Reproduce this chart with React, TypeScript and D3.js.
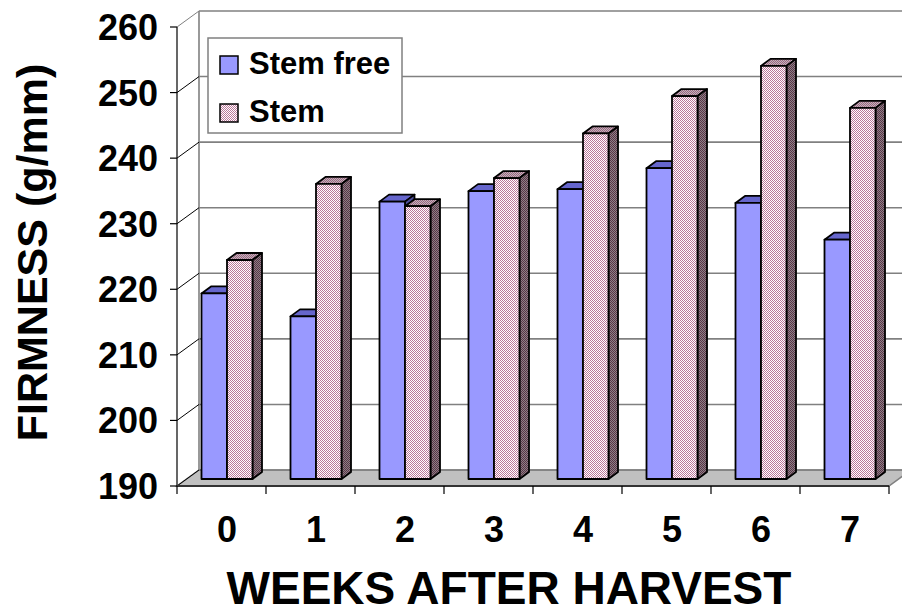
import React from "react";
import * as d3 from "d3";

const categories = ["0", "1", "2", "3", "4", "5", "6", "7"];
const stemFree = [218.3, 214.8, 232.3, 233.9, 234.2, 237.4, 232.1, 226.5];
const stem = [223.4, 235.0, 231.6, 235.9, 242.7, 248.4, 253.0, 246.6];
const yTicks = [190, 200, 210, 220, 230, 240, 250, 260];
const seriesNames = ["Stem free", "Stem"];

const W = 902;
const H = 613;
const FONT = "'Liberation Sans', Arial, sans-serif";

export default function App() {
  const frontLeft = 177;
  const frontRight = 889;
  const frontBase = 486;
  const frontTop = 27;
  const depthX = 22;
  const depthY = 16;
  const barOffX = 5.5;
  const barOffY = 7;
  const barDepthX = 9.5;
  const barDepthY = 7;
  const barW = 25.5;

  const x = d3.scaleBand<string>().domain(categories).range([frontLeft, frontRight]);
  const yFront = d3.scaleLinear().domain([190, 260]).range([frontBase, frontTop]);
  const yBack = d3.scaleLinear().domain([190, 260]).range([frontBase - depthY, frontTop - depthY]);
  const yBar = d3.scaleLinear().domain([190, 260]).range([frontBase - barOffY, frontTop - barOffY]);

  const pts = (p: [number, number][]) => p.map((q) => q.join(",")).join(" ");

  const bar = (x0: number, v: number, front: string, top: string, side: string, key: string) => {
    const x1 = x0 + barW;
    const yt = yBar(v);
    const yb = yBar(190);
    return (
      <g key={key} stroke="#000" strokeWidth={1.8} strokeLinejoin="round">
        <polygon points={pts([[x0, yt], [x1, yt], [x1 + barDepthX, yt - barDepthY], [x0 + barDepthX, yt - barDepthY]])} fill={top} />
        <polygon points={pts([[x1, yt], [x1 + barDepthX, yt - barDepthY], [x1 + barDepthX, yb - barDepthY], [x1, yb]])} fill={side} />
        <rect x={x0} y={yt} width={barW} height={yb - yt} fill={front} />
      </g>
    );
  };

  const bw = x.bandwidth();

  return (
    <svg width={W} height={H} style={{ position: "absolute", left: 0, top: 0, background: "#fff" }} xmlns="http://www.w3.org/2000/svg">
      <defs>
        <pattern id="pFront" width={2} height={2} patternUnits="userSpaceOnUse">
          <rect width={2} height={2} fill="#ffffff" />
          <rect x={0} y={0} width={1} height={1} fill="#bb7799" />
          <rect x={1} y={1} width={1} height={1} fill="#bb7799" />
        </pattern>
        <pattern id="pSide" width={2} height={2} patternUnits="userSpaceOnUse">
          <rect width={2} height={2} fill="#8c8286" />
          <rect x={0} y={0} width={1} height={1} fill="#5a3347" />
          <rect x={1} y={1} width={1} height={1} fill="#5a3347" />
        </pattern>
        <pattern id="pTop" width={2} height={2} patternUnits="userSpaceOnUse">
          <rect width={2} height={2} fill="#c4b4bc" />
          <rect x={0} y={0} width={1} height={1} fill="#996680" />
          <rect x={1} y={1} width={1} height={1} fill="#996680" />
        </pattern>
      </defs>

      <polygon
        points={pts([[frontLeft, frontBase], [frontRight, frontBase], [frontRight + depthX, frontBase - depthY], [frontLeft + depthX, frontBase - depthY]])}
        fill="#c0c0c0"
        stroke="#808080"
        strokeWidth={1.5}
      />

      {yTicks.map((t) => (
        <line key={"g" + t} x1={frontLeft + depthX} x2={W + 20} y1={yBack(t)} y2={yBack(t)} stroke="#808080" strokeWidth={1.6} />
      ))}
      <line x1={frontLeft + depthX} x2={frontLeft + depthX} y1={yBack(260)} y2={yBack(190)} stroke="#808080" strokeWidth={1.6} />
      {yTicks.map((t) => (
        <line key={"d" + t} x1={frontLeft} y1={yFront(t)} x2={frontLeft + depthX} y2={yBack(t)} stroke={t === 260 ? "#808080" : "#000"} strokeWidth={1} />
      ))}

      <line x1={frontLeft} x2={frontLeft} y1={yFront(260)} y2={yFront(190)} stroke="#000" strokeWidth={1.2} />
      {yTicks.map((t) => (
        <g key={"t" + t}>
          <line x1={frontLeft - 7} x2={frontLeft} y1={yFront(t)} y2={yFront(t)} stroke="#000" strokeWidth={1.2} />
          <text x={158} y={yFront(t)} dy="0.36em" textAnchor="end" fontFamily={FONT} fontWeight="bold" fontSize={36} fill="#000">
            {t}
          </text>
        </g>
      ))}

      <line x1={frontLeft} x2={frontRight} y1={frontBase} y2={frontBase} stroke="#333" strokeWidth={1.8} />
      {[...categories.map((c) => x(c) as number), frontRight].map((px, i) => (
        <line key={"xt" + i} x1={px} x2={px} y1={frontBase} y2={frontBase + 8} stroke="#000" strokeWidth={1.2} />
      ))}

      {categories.map((c, i) => {
        const center = (x(c) as number) + bw / 2 + barOffX;
        return (
          <g key={"bar" + c}>
            {bar(center - barW, stemFree[i], "#9999ff", "#6666cc", "#4d4d99", "sf" + c)}
            {bar(center, stem[i], "url(#pFront)", "url(#pTop)", "url(#pSide)", "st" + c)}
          </g>
        );
      })}

      {categories.map((c) => (
        <text key={"xl" + c} x={(x(c) as number) + bw / 2 + barOffX} y={542} textAnchor="middle" fontFamily={FONT} fontWeight="bold" fontSize={36} fill="#000">
          {c}
        </text>
      ))}

      <text x={509} y={604} textAnchor="middle" fontFamily={FONT} fontWeight="bold" fontSize={46} fill="#000">
        WEEKS AFTER HARVEST
      </text>
      <text transform="translate(47,252.5) rotate(-90)" textAnchor="middle" fontFamily={FONT} fontWeight="bold" fontSize={43} fill="#000">
        FIRMNESS (g/mm)
      </text>

      <rect x={208} y={38} width={194} height={95} fill="#fff" stroke="#808080" strokeWidth={1.5} />
      <rect x={220} y={56} width={18} height={18} fill="#9999ff" stroke="#000" strokeWidth={1.5} />
      <text x={249} y={74} fontFamily={FONT} fontWeight="bold" fontSize={31} fill="#000">
        {seriesNames[0]}
      </text>
      <rect x={220} y={104} width={18} height={18} fill="url(#pFront)" stroke="#000" strokeWidth={1.5} />
      <text x={249} y={122} fontFamily={FONT} fontWeight="bold" fontSize={31} fill="#000">
        {seriesNames[1]}
      </text>
    </svg>
  );
}
